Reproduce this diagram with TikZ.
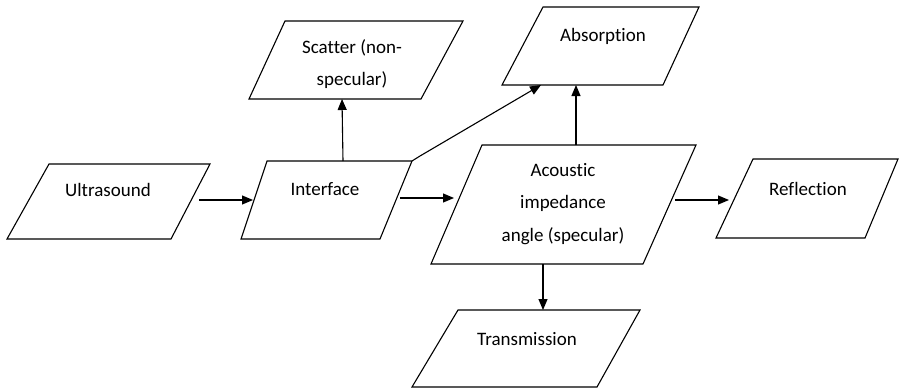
\documentclass[tikz,border=0pt]{standalone}
\usepackage{fontspec}
\setmainfont{Carlito}[Ligatures={NoCommon,NoRare}]
\usetikzlibrary{arrows.meta}
\begin{document}
\begin{tikzpicture}[x=1pt,y=-1pt,
  box/.style={draw=black, line width=1.1pt, line join=miter},
  lbl/.style={font=\fontsize{19}{32.5}\selectfont, align=center, inner sep=0pt},
  conn/.style={line width=1.1pt, -{Triangle[length=11pt,width=9pt]}}]
\useasboundingbox (0,0) rectangle (900,389);
% boxes
\draw[box] (49,164) -- (210,164) -- (171,239) -- (7,239) -- cycle;
\node[lbl] (us) at (108,190) {Ultrasound};
\draw[box] (267,161) -- (412,161) -- (380,239) -- (241,239) -- cycle;
\node[lbl] (if) at (325,189) {Interface};
\draw[box] (285,21) -- (463,21) -- (421,99) -- (249,99) -- cycle;
\node[lbl] (sc) at (352,64) {Scatter (non-\\specular)};
\draw[box] (543,7) -- (699,7) -- (663,85) -- (502,85) -- cycle;
\node[lbl] (ab) at (603,36) {Absorption};
\draw[box] (482,145) -- (696,145) -- (643,264) -- (431,264) -- cycle;
\node[lbl] (ac) at (563,204) {Acoustic\\impedance\\angle (specular)};
\draw[box] (753,159) -- (898,159) -- (865,238) -- (716,238) -- cycle;
\node[lbl] (re) at (808,189) {Reflection};
\draw[box] (458,310) -- (640,310) -- (597,387) -- (412,387) -- cycle;
\node[lbl] (tr) at (527,339) {Transmission};
% connector end points
\coordinate (usE) at (199,200);
\coordinate (ifW) at (253,200);
\coordinate (ifE) at (400,198);
\coordinate (acW) at (454,198);
\coordinate (ifN) at (343,161);
\coordinate (scS) at (342,99);
\coordinate (ifNE) at (412,161);
\coordinate (bend) at (420,156);
\coordinate (abS1) at (541,85);
\coordinate (acN) at (576,145);
\coordinate (abS2) at (576,85);
\coordinate (acE) at (675,200);
\coordinate (reW) at (729,200);
\coordinate (acS) at (543,264);
\coordinate (trN) at (543,310);
% connectors
\draw[conn] (usE) -- (ifW);
\draw[conn] (ifE) -- (acW);
\draw[conn] (ifN) -- (scS);
\draw[conn] (ifNE) -- (bend) -- (abS1);
\draw[conn] (acN) -- (abS2);
\draw[conn] (acE) -- (reW);
\draw[conn] (acS) -- (trN);
\end{tikzpicture}
\end{document}
